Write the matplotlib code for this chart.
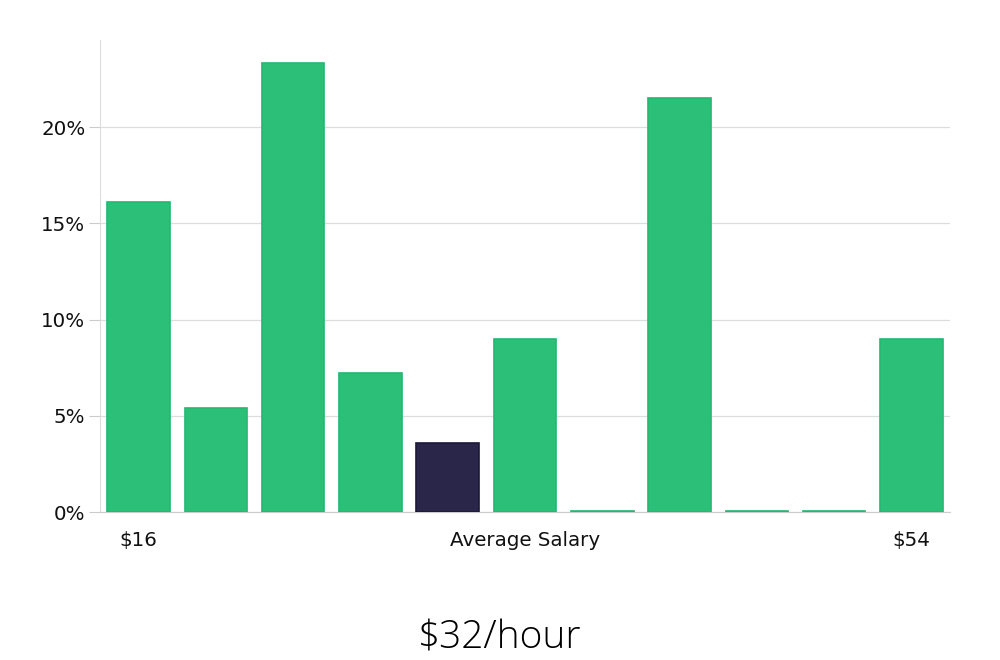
import matplotlib
matplotlib.use("Agg")
import matplotlib.pyplot as plt
from matplotlib.ticker import FuncFormatter

values = [16.1, 5.4, 23.3, 7.2, 3.6, 9.0, 0.06, 21.5, 0.06, 0.06, 9.0]
highlight = 4
yticks = [0, 5, 10, 15, 20]
x_labels = {0: "$16", 5: "Average Salary", 10: "$54"}
title = "$32/hour"

green = "#2bbf78"
green_edge = "#22b872"
dark = "#29264a"
dark_edge = "#1b1938"

fig = plt.figure(figsize=(10, 6.6), dpi=100)
ax = fig.add_axes([0.1, 0.2242, 0.85, 0.7152])

xs = list(range(len(values)))
colors = [dark if i == highlight else green for i in xs]
edges = [dark_edge if i == highlight else green_edge for i in xs]
ax.bar(xs, values, width=0.81, color=colors, edgecolor=edges, linewidth=1.2, zorder=3)

ax.set_xlim(-0.5, 10.5)
ax.set_ylim(0, 24.52)
ax.set_yticks(yticks)
ax.yaxis.set_major_formatter(FuncFormatter(lambda v, p: f"{v:g}%"))
ax.grid(axis="y", color="#dddddd", linewidth=0.9, zorder=0)
ax.tick_params(axis="y", length=8, color="#cccccc", labelsize=14.3, pad=2.5, labelcolor="#111111")
ax.set_xticks(list(x_labels.keys()))
ax.set_xticklabels(list(x_labels.values()))
ax.tick_params(axis="x", length=0, labelsize=14.3, pad=14, labelcolor="#111111")

for s in ["top", "right"]:
    ax.spines[s].set_visible(False)
ax.spines["left"].set_color("#dddddd")
ax.spines["bottom"].set_color("#cccccc")

fig.text(0.5, 0.018, title, ha="center", va="baseline", fontsize=28, fontweight=300,
         family=["Open Sans", "DejaVu Sans"], color="#000000")

fig.savefig("out.png", dpi=100, facecolor="white")
